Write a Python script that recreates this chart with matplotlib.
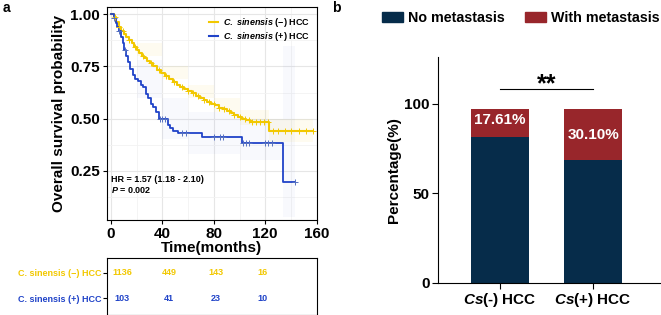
import numpy as np
from matplotlib import pyplot as plt
from matplotlib.patches import Patch
from matplotlib.lines import Line2D

plt.rcParams['font.family'] = ['Liberation Sans', 'DejaVu Sans']
plt.rcParams['font.weight'] = 'bold'
plt.rcParams['axes.labelweight'] = 'bold'
plt.rcParams['mathtext.fontset'] = 'custom'
plt.rcParams['mathtext.rm'] = 'Liberation Sans:bold'
plt.rcParams['mathtext.bf'] = 'Liberation Sans:bold'
plt.rcParams['mathtext.it'] = 'Liberation Sans:italic:bold'

# ---- panel a: Kaplan-Meier data ----
neg_t = [0, 2, 4, 6, 8, 10, 12, 14, 16, 18, 20, 22, 24, 26, 28, 30, 33, 36, 39, 42, 45, 48, 51, 54,
         57, 60, 63, 66, 69, 72, 75, 78, 81, 84, 87, 90, 93, 96, 99, 102, 105, 108, 123, 157]
neg_s = [1.0, 0.985, 0.965, 0.94, 0.92, 0.905, 0.89, 0.878, 0.862, 0.845, 0.83, 0.815, 0.80, 0.79,
         0.778, 0.766, 0.75, 0.735, 0.72, 0.706, 0.69, 0.675, 0.662, 0.65, 0.64, 0.632, 0.622, 0.61,
         0.60, 0.59, 0.58, 0.572, 0.563, 0.553, 0.545, 0.535, 0.526, 0.518, 0.51, 0.50, 0.492, 0.486,
         0.44, 0.44]
pos_t = [0, 2, 4, 5, 6, 8, 9, 10, 12, 13, 15, 17, 19, 21, 23, 25, 27, 29, 31, 33, 35, 37, 44, 46,
         48, 52, 71, 102, 134, 143]
pos_s = [1.0, 0.98, 0.96, 0.94, 0.92, 0.89, 0.86, 0.83, 0.80, 0.77, 0.74, 0.71, 0.69, 0.68, 0.66,
         0.65, 0.62, 0.60, 0.57, 0.555, 0.53, 0.50, 0.47, 0.455, 0.44, 0.43, 0.413, 0.385, 0.195, 0.195]

neg_cens = [3, 6, 9, 14, 19, 25, 31, 37, 43, 49, 55, 60, 64, 68, 72, 76, 80, 84, 88, 92, 96, 100,
            104, 107, 110, 113, 116, 119, 122, 126, 130, 135, 140, 146, 152, 157]
pos_cens = [2, 6, 11, 38, 40, 42, 55, 58, 80, 85, 87, 103, 105, 107, 120, 122, 125, 143]

# confidence bands (approximate, step-wise)
neg_ci_t = [0, 20, 40, 60, 80, 100, 123, 157]
neg_ci_lo = [1.0, 0.80, 0.69, 0.60, 0.53, 0.47, 0.39, 0.39]
neg_ci_hi = [1.0, 0.86, 0.75, 0.66, 0.60, 0.54, 0.50, 0.50]
pos_ci_t = [0, 20, 40, 60, 100, 134, 143]
pos_ci_lo = [1.0, 0.60, 0.40, 0.33, 0.30, 0.03, 0.03]
pos_ci_hi = [1.0, 0.78, 0.60, 0.53, 0.50, 0.85, 0.85]

risk_times = [0, 40, 80, 120]
risk_neg = [1136, 449, 143, 16]
risk_pos = [103, 41, 23, 10]
group_names = ['$\\it{C.\\ sinensis}$ (\u2212) HCC', '$\\it{C.\\ sinensis}$ (+) HCC']
table_names = ['C. sinensis (\u2212) HCC', 'C. sinensis (+) HCC']

# ---- panel b: metastasis data ----
bar_cats = ['$\\it{Cs}$(-) HCC', '$\\it{Cs}$(+) HCC']
no_met = [81.2, 68.8]
with_met = [16.0, 28.4]
met_labels = ['17.61%', '30.10%']

yellow = '#F2C800'
blue = '#2043C8'
navy = '#062C4A'
red = '#98262B'

fig = plt.figure(figsize=(6.61, 3.15), dpi=100)

ax = fig.add_axes([0.162, 0.302, 0.317, 0.676])
ax.set_xlim(-3.1, 160)
ax.set_ylim(0.015, 1.035)
ax.set_xticks([0, 40, 80, 120, 160])
ax.set_yticks([0.25, 0.5, 0.75, 1.0])
ax.set_yticklabels(['0.25', '0.50', '0.75', '1.00'])
ax.set_xticks([20, 60, 100, 140], minor=True)
ax.set_yticks([0.125, 0.375, 0.625, 0.875], minor=True)
ax.grid(True, which='major', color='#E6E6E6', lw=0.8)
ax.grid(True, which='minor', color='#F2F2F2', lw=0.6)
ax.tick_params(which='minor', length=0)
ax.tick_params(which='major', labelsize=11, length=3, width=0.8, pad=2)
ax.set_axisbelow(True)

ax.fill_between(neg_ci_t, neg_ci_lo, neg_ci_hi, step='post', color=yellow, alpha=0.06, lw=0)
ax.fill_between(pos_ci_t, pos_ci_lo, pos_ci_hi, step='post', color=blue, alpha=0.03, lw=0)
ax.plot(neg_t, neg_s, drawstyle='steps-post', color=yellow, lw=1.5)
ax.plot(pos_t, pos_s, drawstyle='steps-post', color=blue, lw=1.3)

neg_idx = np.searchsorted(neg_t, neg_cens, side='right') - 1
pos_idx = np.searchsorted(pos_t, pos_cens, side='right') - 1
ax.plot(neg_cens, np.array(neg_s)[neg_idx], '+', color=yellow, ms=4, mew=0.7)
ax.plot(pos_cens, np.array(pos_s)[pos_idx], '+', color='#5570C0', ms=4, mew=0.7)

ax.set_xlabel('Time(months)', fontsize=11, labelpad=0)
ax.set_ylabel('Overall survival probability', fontsize=11, labelpad=3)

handles = [Line2D([], [], color=yellow, lw=1.5), Line2D([], [], color=blue, lw=1.5)]
ax.legend(handles, group_names, loc='upper right', bbox_to_anchor=(1.01, 1.0), frameon=False,
          fontsize=6.5, handlelength=1.0, handletextpad=0.5, labelspacing=0.15, borderaxespad=0.6)
ax.text(0.02, 0.19, 'HR = 1.57 (1.18 - 2.10)', transform=ax.transAxes, fontsize=6.5, va='center')
ax.text(0.02, 0.14, '$\\it{P}$ = 0.002', transform=ax.transAxes, fontsize=6.5, va='center')

# risk table
tab = fig.add_axes([0.162, 0.0, 0.317, 0.181])
tab.set_xlim(-12.9, 166.2)
tab.set_ylim(0.321, 2.599)
tab.set_xticks([])
tab.set_yticks([2, 1])
tab.set_yticklabels(table_names, fontsize=6.5)
tab.tick_params(axis='y', length=3, width=0.8, pad=1)
for lbl, c in zip(tab.get_yticklabels(), [yellow, blue]):
    lbl.set_color(c)
for t, n1, n2 in zip(risk_times, risk_neg, risk_pos):
    tab.text(t, 2, str(n1), color=yellow, fontsize=6.5, ha='center', va='center')
    tab.text(t, 1, str(n2), color=blue, fontsize=6.5, ha='center', va='center')

# ---- panel b ----
bx = fig.add_axes([0.6626, 0.1016, 0.336, 0.717])
xpos = np.arange(len(bar_cats))
bx.bar(xpos, no_met, width=0.62, color=navy)
bx.bar(xpos, with_met, width=0.62, bottom=no_met, color=red)
for x, b, h, s in zip(xpos, no_met, with_met, met_labels):
    yy = b + h / 2 + (1.5 if x == 0 else -0.5)
    bx.text(x, yy, s, color='white', fontsize=11, ha='center', va='center')
bx.set_xlim(-0.667, 1.72)
bx.set_ylim(0, 126)
bx.set_yticks([0, 50, 100])
bx.set_xticks(xpos)
bx.set_xticklabels(bar_cats)
bx.tick_params(labelsize=11, length=4, width=0.8, pad=2)
bx.spines['top'].set_visible(False)
bx.spines['right'].set_visible(False)
bx.set_ylabel('Percentage(%)', fontsize=11, labelpad=2)
bx.plot([0, 1], [108.4, 108.4], color='black', lw=0.8)
bx.text(0.5, 111, '**', fontsize=18, ha='center', va='center')

fig.legend([Patch(color=navy), Patch(color=red)], ['No metastasis', 'With metastasis'],
           loc='center left', bbox_to_anchor=(0.558, 0.943), ncol=2, frameon=False, fontsize=10.3,
           handlelength=1.47, handleheight=0.75, handletextpad=0.35, columnspacing=1.4)

fig.text(0.004, 0.975, 'a', fontsize=10, va='center', ha='left')
fig.text(0.503, 0.975, 'b', fontsize=10, va='center', ha='left')

fig.savefig('out.png', dpi=100)
